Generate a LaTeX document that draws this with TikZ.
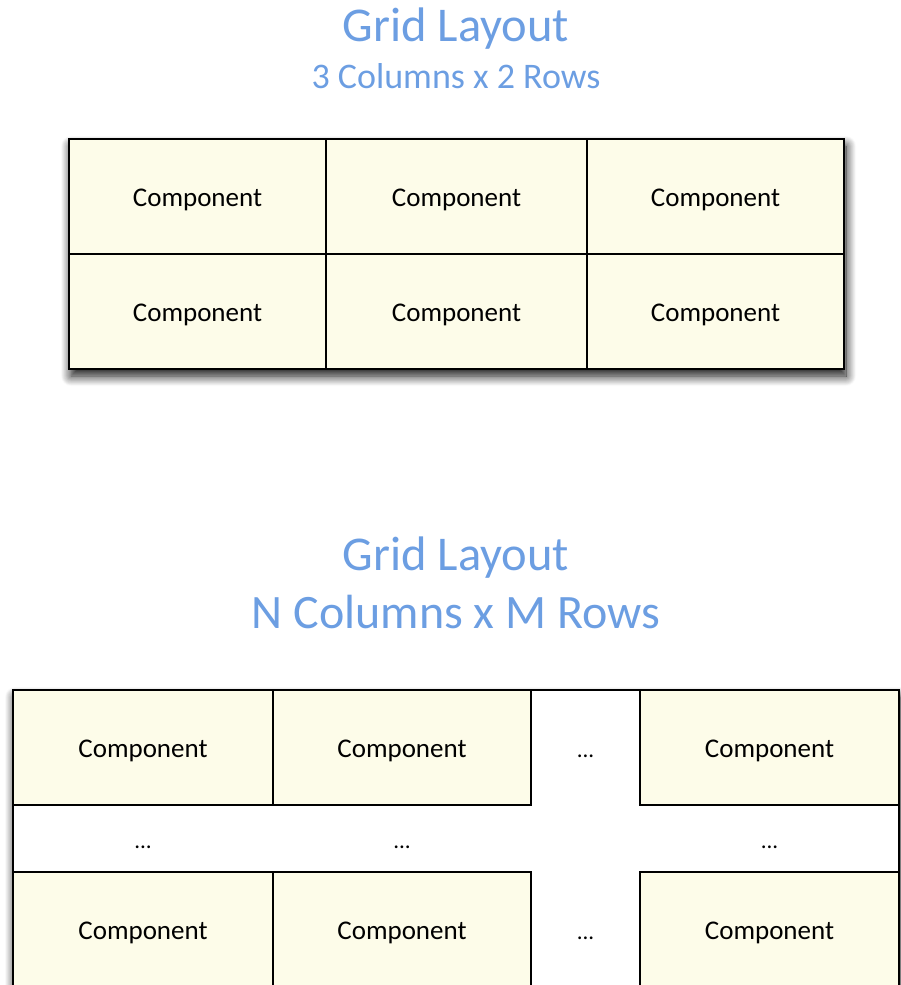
\documentclass[tikz,border=0pt]{standalone}
\usepackage{fontspec}
\setmainfont{Carlito}
\usetikzlibrary{shadows.blur}
\definecolor{titleblue}{RGB}{108,158,226}
\definecolor{cellfill}{RGB}{253,252,233}
\tikzset{
  x=1pt, y=-1pt,
  title/.style={text=titleblue, inner sep=0pt, anchor=base, font=\fontsize{48.5}{54}\selectfont},
  subtitle/.style={text=titleblue, inner sep=0pt, anchor=base, font=\fontsize{36}{40}\selectfont},
  bigsub/.style={text=titleblue, inner sep=0pt, anchor=base, font=\fontsize{48}{54}\selectfont},
  cell/.style={draw=black, line width=1.5pt, fill=cellfill, inner sep=0pt, outer sep=0pt,
    minimum height=115pt, text height=19pt, text depth=0pt, font=\fontsize{27}{30}\selectfont},
  dots/.style={inner sep=0pt, text height=19pt, text depth=0pt, font=\fontsize{23}{26}\selectfont},
  frame/.style={draw=black, line width=2pt,
    blur shadow={shadow xshift=2pt, shadow yshift=-7pt, shadow blur radius=10pt,
      shadow blur steps=12, shadow opacity=95}},
}
\begin{document}
\begin{tikzpicture}
\useasboundingbox (0,0) rectangle (901,985);
% ---- top grid ----
\node[title] (t1) at (456,41) {Grid Layout};
\node[subtitle] (s1) at (456,88) {3 Columns x 2 Rows};
\path[frame, fill=cellfill] (69,139) rectangle (844,369);
\node[cell, minimum width=257pt] (a11) at (197.5,196.5) {Component};
\node[cell, minimum width=261pt] (a12) at (456.5,196.5) {Component};
\node[cell, minimum width=257pt] (a13) at (715.5,196.5) {Component};
\node[cell, minimum width=257pt] (a21) at (197.5,311.5) {Component};
\node[cell, minimum width=261pt] (a22) at (456.5,311.5) {Component};
\node[cell, minimum width=257pt] (a23) at (715.5,311.5) {Component};
\draw[line width=2pt] (69,139) rectangle (844,369);
% ---- bottom grid ----
\node[title] (t2) at (456,570) {Grid Layout};
\node[bigsub] (s2) at (456,628) {N Columns x M Rows};
\path[frame, fill=white] (13,690) rectangle (899,1000);
\node[cell, minimum width=260pt] (b11) at (143,747.5) {Component};
\node[cell, minimum width=258pt] (b12) at (402,747.5) {Component};
\node[cell, minimum width=259pt] (b14) at (769.5,747.5) {Component};
\node[cell, minimum width=260pt] (b31) at (143,929.5) {Component};
\node[cell, minimum width=258pt] (b32) at (402,929.5) {Component};
\node[cell, minimum width=259pt] (b34) at (769.5,929.5) {Component};
\node[dots] (d13) at (585.5,747.5) {...};
\node[dots] (d33) at (585.5,929.5) {...};
\node[dots] (d21) at (143,838.5) {...};
\node[dots] (d22) at (402,838.5) {...};
\node[dots] (d24) at (769.5,838.5) {...};
\draw[line width=2pt] (13,1000) -- (13,690) -- (899,690) -- (899,1000);
\end{tikzpicture}
\end{document}
